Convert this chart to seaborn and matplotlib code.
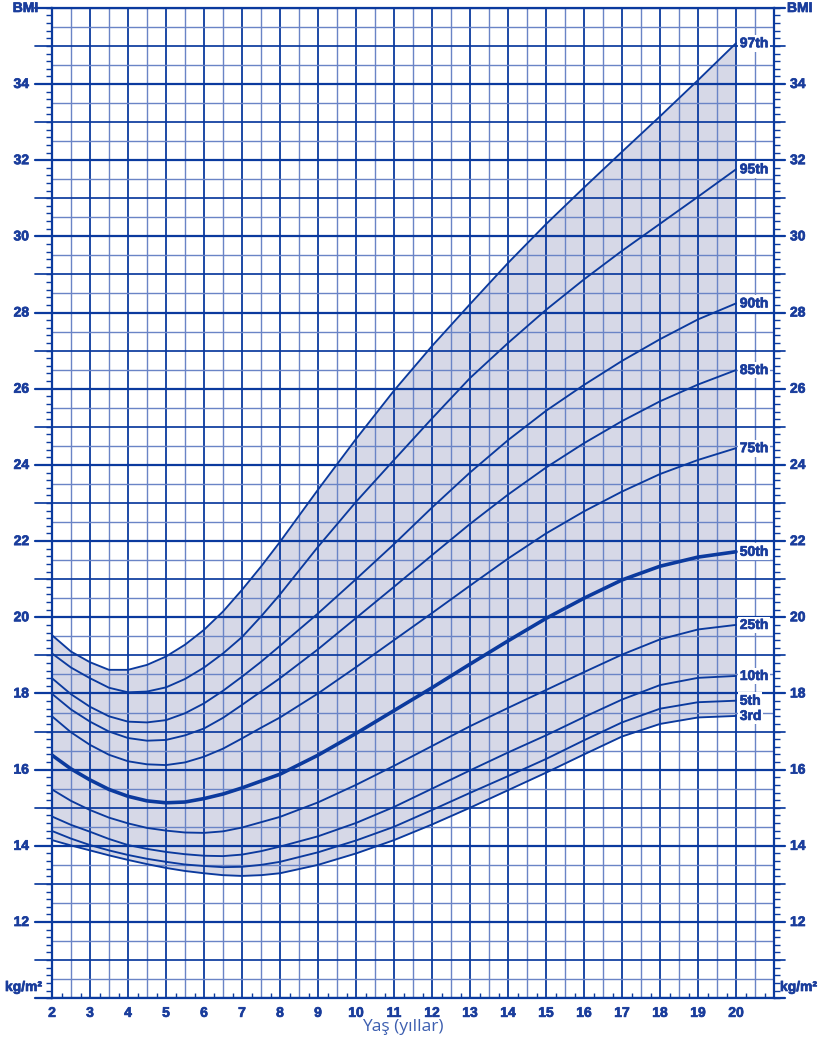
import numpy as np
import pandas as pd
import matplotlib
matplotlib.use("Agg")
import matplotlib.pyplot as plt
import matplotlib.transforms as mtransforms
import matplotlib.patheffects as pe
from matplotlib import font_manager
from matplotlib.ticker import MultipleLocator, FixedLocator
import seaborn as sns

# yaş (yıl) - 2-8 arası yarım yıl aralıkla
ages = [2, 2.5, 3, 3.5, 4, 4.5, 5, 5.5, 6, 6.5, 7, 7.5, 8,
        9, 10, 11, 12, 13, 14, 15, 16, 17, 18, 19, 20]

p97 = [19.53, 19.1, 18.82, 18.62, 18.62, 18.75, 18.97, 19.28, 19.67, 20.15, 20.72, 21.33, 21.98,
       23.35, 24.68, 25.95, 27.12, 28.22, 29.3, 30.32, 31.28, 32.22, 33.15, 34.1, 35.07]
p95 = [19.05, 18.68, 18.4, 18.15, 18.03, 18.05, 18.16, 18.38, 18.68, 19.05, 19.48, 20.02, 20.6,
       21.85, 23.03, 24.13, 25.22, 26.28, 27.2, 28.07, 28.87, 29.62, 30.33, 31.04, 31.76]
p90 = [18.4, 17.98, 17.65, 17.4, 17.26, 17.24, 17.3, 17.48, 17.74, 18.07, 18.44, 18.83, 19.25,
       20.1, 21.0, 21.92, 22.88, 23.8, 24.65, 25.42, 26.1, 26.73, 27.3, 27.82, 28.24]
p85 = [17.99, 17.58, 17.26, 17.0, 16.83, 16.76, 16.78, 16.9, 17.08, 17.36, 17.7, 18.05, 18.4,
       19.16, 19.98, 20.8, 21.63, 22.45, 23.22, 23.93, 24.57, 25.15, 25.67, 26.11, 26.49]
p75 = [17.4, 16.98, 16.65, 16.39, 16.22, 16.14, 16.12, 16.19, 16.34, 16.55, 16.82, 17.1, 17.37,
       18.0, 18.69, 19.4, 20.11, 20.83, 21.54, 22.2, 22.78, 23.3, 23.76, 24.13, 24.44]
p50 = [16.38, 16.02, 15.73, 15.48, 15.3, 15.18, 15.13, 15.15, 15.24, 15.36, 15.52, 15.7, 15.88,
       16.38, 16.95, 17.55, 18.15, 18.77, 19.38, 19.97, 20.5, 20.98, 21.34, 21.58, 21.72]
p25 = [15.48, 15.18, 14.94, 14.74, 14.59, 14.47, 14.4, 14.35, 14.34, 14.38, 14.48, 14.62, 14.76,
       15.14, 15.6, 16.1, 16.62, 17.14, 17.62, 18.09, 18.56, 19.02, 19.42, 19.68, 19.8]
p10 = [14.77, 14.55, 14.37, 14.18, 14.02, 13.92, 13.84, 13.78, 13.74, 13.73, 13.77, 13.86, 13.98,
       14.25, 14.6, 15.02, 15.5, 15.98, 16.45, 16.9, 17.38, 17.84, 18.22, 18.41, 18.46]
p5 = [14.39, 14.19, 14.02, 13.88, 13.76, 13.66, 13.58, 13.51, 13.47, 13.44, 13.45, 13.5, 13.58,
      13.83, 14.14, 14.5, 14.94, 15.39, 15.83, 16.28, 16.77, 17.24, 17.6, 17.77, 17.81]
p3 = [14.15, 14.01, 13.88, 13.75, 13.63, 13.52, 13.42, 13.34, 13.28, 13.23, 13.21, 13.23, 13.28,
      13.5, 13.8, 14.15, 14.56, 15.0, 15.46, 15.92, 16.4, 16.87, 17.2, 17.37, 17.41]

curves = [("97th", p97), ("95th", p95), ("90th", p90), ("85th", p85), ("75th", p75),
          ("50th", p50), ("25th", p25), ("10th", p10), ("5th", p5), ("3rd", p3)]

x_ticks = list(range(2, 21))
y_ticks = list(range(12, 35, 2))

dark = "#0b3a9e"
light = "#6a84c6"
fill = "#d6d8e7"
txt = "#1a3d9c"

sns.set_theme(style="white")
plt.rcParams["font.family"] = ["Liberation Sans", "DejaVu Sans"]

# Liberation Sans Bold dosyasını doğrudan bul (Narrow olmayan)
bold_file = None
for f in font_manager.fontManager.ttflist:
    if f.name == "Liberation Sans" and f.weight in (700, "bold") and "Narrow" not in f.fname:
        bold_file = f.fname
        break
if bold_file:
    bfp = font_manager.FontProperties(fname=bold_file, size=10)
else:
    bfp = font_manager.FontProperties(family=["Liberation Sans", "DejaVu Sans"], weight="bold", size=10)
# biraz daha kalın görünüm için
heavy = [pe.withStroke(linewidth=0.5, foreground=txt)]

W, H = 819, 1046
fig = plt.figure(figsize=(W / 100, H / 100), dpi=100)
ax = fig.add_axes([52 / W, 1 - 998.2 / H, 722 / W, 990.4 / H])
ax.set_xlim(2, 21)
ax.set_ylim(10, 36)

ax.fill_between(ages, p3, p97, color=fill, lw=0, zorder=0.5)

# ızgara
for v in np.arange(2, 21.01, 0.5):
    major = float(v).is_integer()
    ax.axvline(v, color=dark if major else light, lw=1.3 if major else 1.0, zorder=1)
for h in np.arange(10, 36.01, 0.5):
    if float(h).is_integer():
        lw = 1.6 if int(h) % 2 == 0 else 1.25
        ax.axhline(h, color=dark, lw=lw, zorder=1)
    else:
        ax.axhline(h, color=light, lw=1.0, zorder=1)

# tam sayı çizgilerinin kenar uzantıları
trans = mtransforms.blended_transform_factory(ax.transAxes, ax.transData)
for h in range(10, 37):
    lw = 1.6 if h % 2 == 0 else 1.25
    ax.plot([-17 / 722, 0], [h, h], color=dark, lw=lw, transform=trans, clip_on=False, zorder=1)
    ax.plot([1, 1 + 11 / 722], [h, h], color=dark, lw=lw, transform=trans, clip_on=False, zorder=1)

for name, vals in curves:
    sns.lineplot(x=ages, y=vals, ax=ax, color=dark, lw=2.6 if name == "50th" else 1.35,
                 zorder=3, estimator=None, sort=False)
    ax.text(20.1, vals[-1], name, color=txt, fontproperties=bfp,
            va="center", ha="left", zorder=4, path_effects=heavy,
            bbox=dict(facecolor="white", edgecolor="none", pad=1.0))

for s in ax.spines.values():
    s.set_color(dark)
    s.set_linewidth(1.6)
    s.set_zorder(2)

ax.set_xticks(x_ticks)
ax.set_xticklabels([str(t) for t in x_ticks], fontproperties=bfp)
for lab in ax.get_xticklabels():
    lab.set_path_effects(heavy)
ax.xaxis.set_minor_locator(FixedLocator(np.arange(2.25, 21, 0.5)))
ax.set_yticks(y_ticks)
ax.yaxis.set_minor_locator(MultipleLocator(0.2))

ax.tick_params(axis="x", which="major", length=0, pad=5.5, labelcolor=txt)
ax.tick_params(axis="x", which="minor", bottom=True, direction="in", length=3.6, width=1.0, color=dark)
ax.tick_params(axis="y", which="major", length=0, left=False, right=False,
               labelleft=False, labelright=False)
ax.tick_params(axis="y", which="minor", left=True, right=True, direction="out",
               length=4.0, width=1.0, color=dark)
ax.set_xlabel("")
ax.set_ylabel("")

# y etiketleri iki yanda
for t in y_ticks:
    ax.text(-23 / 722, t, str(t), transform=trans, color=txt, fontproperties=bfp,
            ha="right", va="center", path_effects=heavy)
    ax.text(1 + 16 / 722, t, str(t), transform=trans, color=txt, fontproperties=bfp,
            ha="left", va="center", path_effects=heavy)

# köşe yazıları
for x0, y0, s, ha in [(38, 8, "BMI", "right"), (787, 8, "BMI", "left"),
                      (5, 987, "kg/m²", "left"), (780, 987, "kg/m²", "left")]:
    fig.text(x0 / W, 1 - y0 / H, s, color=txt, fontproperties=bfp, ha=ha, va="center",
             path_effects=heavy)
fig.text(403 / W, 1 - 1027 / H, "Yaş (yıllar)", color="#3d5fb0", fontsize=12.5,
         family=["Open Sans", "DejaVu Sans"], ha="center", va="center")

fig.savefig("out.png", dpi=100, facecolor="white")
